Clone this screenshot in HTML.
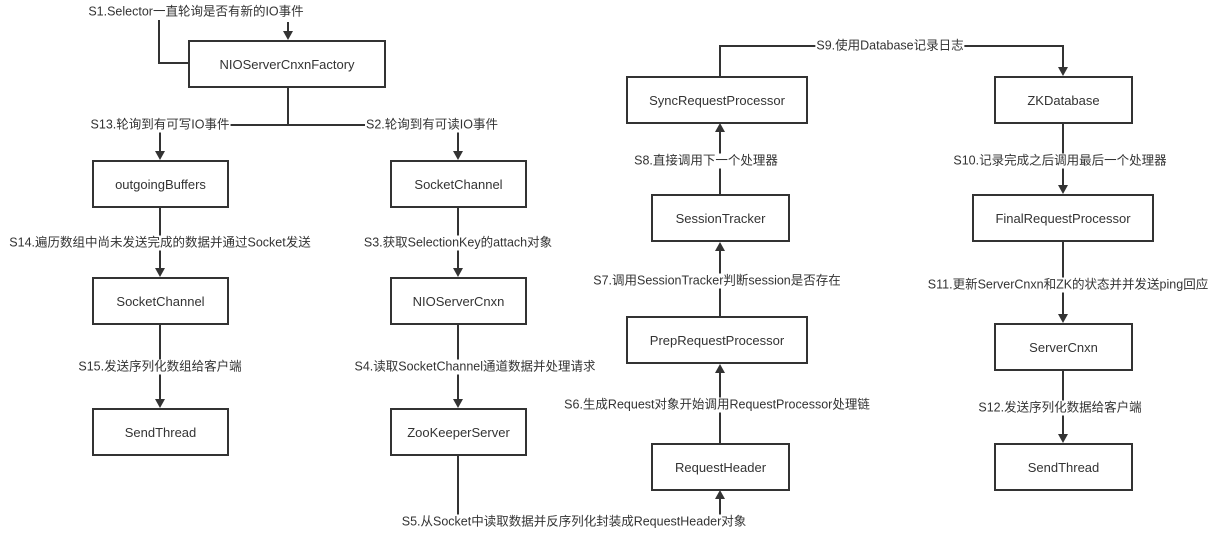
<!DOCTYPE html>
<html><head><meta charset="utf-8"><style>
body{margin:0;width:1222px;height:534px;background:#fff;position:relative;overflow:hidden;font-family:"Liberation Sans","Noto Sans CJK SC",sans-serif;}
svg{position:absolute;left:0;top:0}
.b{position:absolute;border:2px solid #333;box-sizing:border-box;display:flex;align-items:center;justify-content:center;font-size:13px;color:#333;background:#fff}
.l{position:absolute;transform:translate(-50%,-50%);background:#fff;font-size:12.5px;color:#333;white-space:nowrap;padding:0 1px;line-height:15px}
</style></head><body>
<svg width="1222" height="534" viewBox="0 0 1222 534">
<g stroke="#333" stroke-width="2" fill="none">
<path d="M159 20 V63 H188"/>
<path d="M288 22 V32"/>
<path d="M288 88 V125 M160 125 H458 M160 125 V152 M458 125 V152"/>
<path d="M160 208 V269 M458 208 V269"/>
<path d="M160 324 V400 M458 324 V400"/>
<path d="M458 455 V522 H720 V498"/>
<path d="M720 443 V372 M720 316 V250 M720 194 V131"/>
<path d="M720 76 V46 H1063 V68"/>
<path d="M1063 123 V186 M1063 242 V315 M1063 371 V435"/>
</g>
<g fill="#333">
<path d="M283 31 L293 31 L288 40Z"/>
<path d="M155 151 L165 151 L160 160Z"/><path d="M453 151 L463 151 L458 160Z"/>
<path d="M155 268 L165 268 L160 277Z"/><path d="M453 268 L463 268 L458 277Z"/>
<path d="M155 399 L165 399 L160 408Z"/><path d="M453 399 L463 399 L458 408Z"/>
<path d="M715 499 L725 499 L720 490Z"/>
<path d="M715 373 L725 373 L720 364Z"/>
<path d="M715 251 L725 251 L720 242Z"/>
<path d="M715 132 L725 132 L720 123Z"/>
<path d="M1058 67 L1068 67 L1063 76Z"/>
<path d="M1058 185 L1068 185 L1063 194Z"/>
<path d="M1058 314 L1068 314 L1063 323Z"/>
<path d="M1058 434 L1068 434 L1063 443Z"/>
</g>
</svg>
<div class="b" style="left:188px;top:40px;width:198px;height:48px">NIOServerCnxnFactory</div>
<div class="b" style="left:92px;top:160px;width:137px;height:48px">outgoingBuffers</div>
<div class="b" style="left:390px;top:160px;width:137px;height:48px">SocketChannel</div>
<div class="b" style="left:92px;top:277px;width:137px;height:48px">SocketChannel</div>
<div class="b" style="left:390px;top:277px;width:137px;height:48px">NIOServerCnxn</div>
<div class="b" style="left:92px;top:408px;width:137px;height:48px">SendThread</div>
<div class="b" style="left:390px;top:408px;width:137px;height:48px">ZooKeeperServer</div>
<div class="b" style="left:626px;top:76px;width:182px;height:48px">SyncRequestProcessor</div>
<div class="b" style="left:651px;top:194px;width:139px;height:48px">SessionTracker</div>
<div class="b" style="left:626px;top:316px;width:182px;height:48px">PrepRequestProcessor</div>
<div class="b" style="left:651px;top:443px;width:139px;height:48px">RequestHeader</div>
<div class="b" style="left:994px;top:76px;width:139px;height:48px">ZKDatabase</div>
<div class="b" style="left:972px;top:194px;width:182px;height:48px">FinalRequestProcessor</div>
<div class="b" style="left:994px;top:323px;width:139px;height:48px">ServerCnxn</div>
<div class="b" style="left:994px;top:443px;width:139px;height:48px">SendThread</div>

<div class="l" style="left:196px;top:12px">S1.Selector一直轮询是否有新的IO事件</div>
<div class="l" style="left:160px;top:125px">S13.轮询到有可写IO事件</div>
<div class="l" style="left:432px;top:125px">S2.轮询到有可读IO事件</div>
<div class="l" style="left:160px;top:243px">S14.遍历数组中尚未发送完成的数据并通过Socket发送</div>
<div class="l" style="left:458px;top:243px">S3.获取SelectionKey的attach对象</div>
<div class="l" style="left:160px;top:367px">S15.发送序列化数组给客户端</div>
<div class="l" style="left:475px;top:367px">S4.读取SocketChannel通道数据并处理请求</div>
<div class="l" style="left:574px;top:522px">S5.从Socket中读取数据并反序列化封装成RequestHeader对象</div>
<div class="l" style="left:717px;top:405px">S6.生成Request对象开始调用RequestProcessor处理链</div>
<div class="l" style="left:717px;top:281px">S7.调用SessionTracker判断session是否存在</div>
<div class="l" style="left:706px;top:161px">S8.直接调用下一个处理器</div>
<div class="l" style="left:890px;top:46px">S9.使用Database记录日志</div>
<div class="l" style="left:1060px;top:161px">S10.记录完成之后调用最后一个处理器</div>
<div class="l" style="left:1068px;top:285px">S11.更新ServerCnxn和ZK的状态并并发送ping回应</div>
<div class="l" style="left:1060px;top:408px">S12.发送序列化数据给客户端</div>
</body></html>
